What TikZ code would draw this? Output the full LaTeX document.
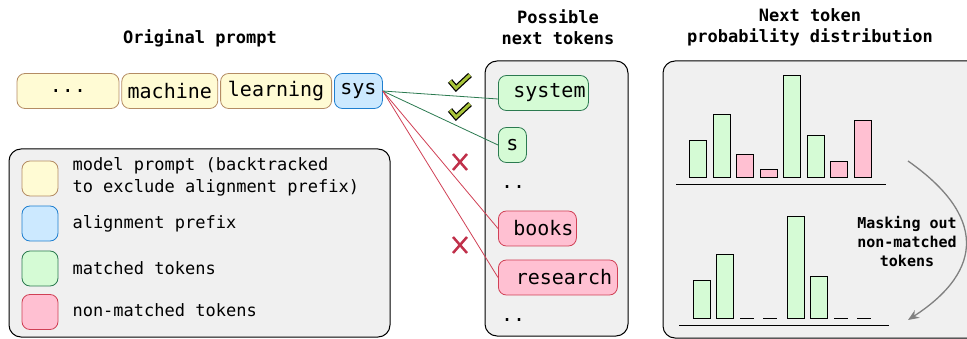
\documentclass[tikz,border=0pt]{standalone}
\usepackage{fontspec}
\setmonofont{DejaVu Sans Mono}
\usetikzlibrary{positioning,arrows.meta}

\definecolor{panelfill}{HTML}{F0F0F0}
\definecolor{prmfill}{HTML}{FFFBD4}
\definecolor{prmdraw}{HTML}{B48C64}
\definecolor{pfxfill}{HTML}{CCE9FF}
\definecolor{pfxdraw}{HTML}{1E7FD0}
\definecolor{okfill}{HTML}{D5FBD5}
\definecolor{okdraw}{HTML}{2B7A50}
\definecolor{nofill}{HTML}{FFC0D2}
\definecolor{nodraw}{HTML}{D04055}
\definecolor{tick}{HTML}{A8C43A}
\definecolor{cross}{HTML}{C0304A}

\begin{document}
\begin{tikzpicture}[x=1pt,y=-1pt,
  panel/.style={draw,fill=panelfill,rounded corners=12pt,line width=1pt},
  title/.style={font=\ttfamily\bfseries\fontsize{17}{21}\selectfont,align=center},
  tok/.style={draw,line width=0.8pt,rounded corners=8pt,minimum height=35pt,inner sep=0pt,font=\ttfamily\fontsize{20}{24}\selectfont},
  prm/.style={tok,fill=prmfill,draw=prmdraw},
  pfx/.style={tok,fill=pfxfill,draw=pfxdraw},
  ok/.style={tok,fill=okfill,draw=okdraw},
  no/.style={tok,fill=nofill,draw=nodraw},
  swatch/.style={draw,line width=0.8pt,rounded corners=8pt,minimum width=36pt,minimum height=35pt},
  legtext/.style={anchor=west,font=\ttfamily\fontsize{17}{22}\selectfont,align=left},
  okbar/.style={draw,line width=1pt,fill=okfill},
  nobar/.style={draw,line width=1pt,fill=nofill}]
\useasboundingbox (0,0) rectangle (967,339);

% titles
\node[title] (t1) at (200,38) {Original prompt};
\node[title] (t2) at (558,27) {Possible\\next tokens};
\node[title] (t3) at (810,27) {Next token\\probability distribution};

% original prompt
\node[prm,minimum width=102pt] (dots) at (68,91) {...};
\node[prm,minimum width=96pt,right=2pt of dots] (machine) {machine};
\node[prm,minimum width=111pt,right=2pt of machine] (learning) {learning};
\node[pfx,minimum width=48pt,right=2pt of learning] (sys) {sys};

% legend
\draw[panel] (9,149) rectangle (390,337);
\node[swatch,fill=prmfill,draw=prmdraw] (lprm) at (40,178.5) {};
\node[swatch,fill=pfxfill,draw=pfxdraw] (lpfx) at (40,223.5) {};
\node[swatch,fill=okfill,draw=okdraw] (lok) at (40,268.5) {};
\node[swatch,fill=nofill,draw=nodraw] (lno) at (40,312) {};
\node[legtext] at (69,177) {model prompt (backtracked\\to exclude alignment prefix)};
\node[legtext] at (69,224) {alignment prefix};
\node[legtext] at (69,268) {matched tokens};
\node[legtext] at (69,310) {non-matched tokens};

% possible next tokens
\draw[panel] (485,61) rectangle (628,336);
\node[ok,anchor=west,minimum width=90pt] (system) at (498,93) {\ system};
\node[ok,anchor=west,minimum width=28pt] (s) at (498,145) {s};
\node[anchor=west,font=\ttfamily\fontsize{20}{24}\selectfont,inner sep=0pt] (more1) at (501,187) {..};
\node[no,anchor=west,minimum width=78pt] (books) at (498,228.5) {\ books};
\node[no,anchor=west,minimum width=119pt] (research) at (498,277.5) {\ research};
\node[anchor=west,font=\ttfamily\fontsize{20}{24}\selectfont,inner sep=0pt] (more2) at (501,320) {..};

\draw[okdraw,line width=0.8pt] (sys.east) -- ([yshift=-6pt]system.west);
\draw[okdraw,line width=0.8pt] (sys.east) -- (s.west);
\draw[nodraw,line width=0.8pt] (sys.east) -- (books.west);
\draw[nodraw,line width=0.8pt] (sys.east) -- (research.west);

% ticks and crosses
\foreach \y in {0,29} {
  \draw[line width=5.5pt,line join=miter] (450,81+\y) -- (456,88+\y) -- (470,75+\y);
  \draw[tick,line width=3pt,line join=miter] (450,81+\y) -- (456,88+\y) -- (470,75+\y);
}
\foreach \y in {0,83}
  \draw[cross,line width=2.5pt] (453,154+\y) -- (467,170+\y) (453,170+\y) -- (467,154+\y);

% distribution
\draw[panel] (663,61) rectangle (985,338);
\foreach \x/\top/\sty in {689/141/okbar,713/115/okbar,736/155/nobar,760/170/nobar,783/76/okbar,807/136/okbar,830/162/nobar,854/121/nobar}
  \draw[\sty] (\x,178) rectangle (\x+17,\top);
\draw[line width=1pt] (676,185) -- (886,185);
\foreach \x/\top in {693/281,716/255,787/217,810/277}
  \draw[okbar] (\x,318) rectangle (\x+17,\top);
\foreach \x in {740,763,834,857}
  \draw[line width=1pt] (\x,318) -- (\x+14,318);
\draw[line width=1pt] (679,325) -- (889,325);

\coordinate (mstart) at (908,161);
\coordinate (mend) at (908,320);
\draw[-{Stealth[length=11pt,width=9pt]},gray,line width=1.3pt] (mstart) .. controls (985,215) and (985,270) .. (mend);
\node[font=\ttfamily\bfseries\fontsize{15}{19}\selectfont,align=center] (mask) at (907,242) {Masking out\\non-matched\\tokens};
\end{tikzpicture}
\end{document}
